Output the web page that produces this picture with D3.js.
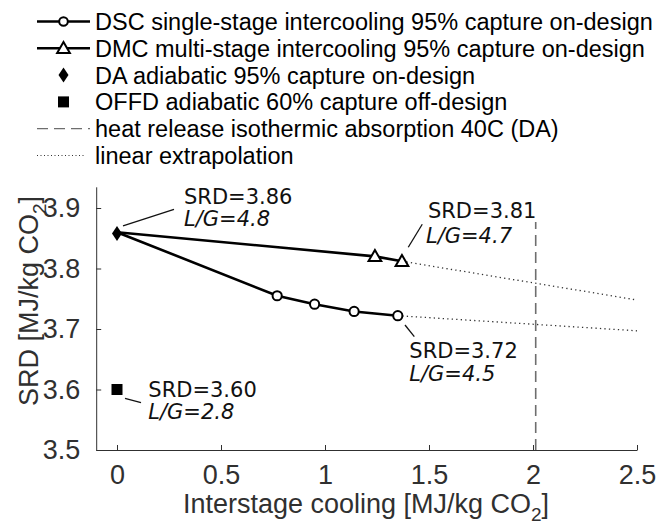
<!DOCTYPE html>
<html><head><meta charset="utf-8">
<script src="https://cdn.jsdelivr.net/npm/d3@7"></script>
<style>body{margin:0;background:#fff}svg{display:block}</style>
</head><body><svg id="c" width="656" height="527"></svg>
<script>
// ---- data ----
const dscX = [0, 0.77, 0.95, 1.14, 1.35];
const dscY = [3.86, 3.755, 3.741, 3.729, 3.722];
const dmcX = [0, 1.24, 1.37];
const dmcY = [3.86, 3.82, 3.812];
const daX = [0];
const daY = [3.858];
const offdX = [0];
const offdY = [3.60];
const isoX = [2.013, 2.013];
const isoY = [3.5, 3.877];
const extDscX = [1.35, 2.5];
const extDscY = [3.722, 3.697];
const extDmcX = [1.37, 2.5];
const extDmcY = [3.812, 3.748];
const xTicks = [0, 0.5, 1, 1.5, 2, 2.5];
const yTicks = [3.5, 3.6, 3.7, 3.8, 3.9];
const legendLabels = [
  "DSC single-stage intercooling 95% capture on-design",
  "DMC multi-stage intercooling 95% capture on-design",
  "DA adiabatic 95% capture on-design",
  "OFFD adiabatic 60% capture off-design",
  "heat release isothermic absorption 40C (DA)",
  "linear extrapolation"
];
const annoSRD = ["SRD=3.86", "SRD=3.81", "SRD=3.72", "SRD=3.60"];
const annoLG = ["L/G=4.8", "L/G=4.7", "L/G=4.5", "L/G=2.8"];
const annoX = [0, 1.37, 1.35, 0];
const annoY = [3.858, 3.812, 3.722, 3.60];

// ---- layout ----
const svg = d3.select("#c");
const x = d3.scaleLinear().domain([-0.1, 2.5]).range([96.2, 637]);
const y = d3.scaleLinear().domain([3.5, 3.935]).range([450, 450 - 0.435 * 605]);
const axisCol = "#303030";
const sansA = "'Liberation Sans', Arial, sans-serif";
const sansD = "'DejaVu Sans', sans-serif";

// axes
const gx = svg.append("g").attr("transform", `translate(0,${y(3.5)})`)
  .call(d3.axisBottom(x).tickValues(xTicks).tickFormat(d3.format("~g"))
    .tickSizeInner(-5).tickSizeOuter(0).tickPadding(15));
const gy = svg.append("g").attr("transform", `translate(${x(-0.1)},0)`)
  .call(d3.axisLeft(y).tickValues(yTicks).tickFormat(d3.format(".1f"))
    .tickSizeInner(-5).tickSizeOuter(0).tickPadding(16));
[gx, gy].forEach(g => {
  g.select(".domain").attr("stroke", axisCol).attr("stroke-width", 1);
  g.selectAll(".tick line").attr("stroke", axisCol);
  g.selectAll(".tick text").attr("fill", axisCol).style("font-family", sansA).style("font-size", "27px");
});

// axis labels
const xl = svg.append("text").attr("x", 366).attr("y", 513).attr("text-anchor", "middle")
  .style("font-family", sansA).style("font-size", "27px").attr("fill", axisCol);
xl.append("tspan").text("Interstage cooling [MJ/kg CO");
xl.append("tspan").attr("dy", 8).style("font-size", "19px").text("2");
xl.append("tspan").attr("dy", -8).text("]");
const yl = svg.append("text").attr("transform", "translate(38,301) rotate(-90)").attr("text-anchor", "middle")
  .style("font-family", sansA).style("font-size", "27px").attr("fill", axisCol);
yl.append("tspan").text("SRD [MJ/kg CO");
yl.append("tspan").attr("dy", 8).style("font-size", "19px").text("2");
yl.append("tspan").attr("dy", -8).text("]");

const line = d3.line().x(d => x(d[0])).y(d => y(d[1]));
const zip = (a, b) => a.map((v, i) => [v, b[i]]);

// vertical isothermic line
svg.append("path").attr("d", line(zip(isoX, isoY))).attr("fill", "none")
  .attr("stroke", "#6e6e6e").attr("stroke-width", 1.6).attr("stroke-dasharray", "11,6");
// extrapolation
[zip(extDscX, extDscY), zip(extDmcX, extDmcY)].forEach(p =>
  svg.append("path").attr("d", line(p)).attr("fill", "none").attr("stroke", "#333")
    .attr("stroke-width", 1.3).attr("stroke-dasharray", "1.3,3.2"));

// series lines
[zip(dscX, dscY), zip(dmcX, dmcY)].forEach(p =>
  svg.append("path").attr("d", line(p)).attr("fill", "none").attr("stroke", "#000").attr("stroke-width", 2.6));

const triPath = d3.symbol().type(d3.symbolTriangle).size(70)();
const diaPath = "M0,-7.5L5,0L0,7.5L-5,0Z";
// circles
svg.selectAll(".dsc").data(zip(dscX, dscY).slice(1)).join("circle")
  .attr("cx", d => x(d[0])).attr("cy", d => y(d[1])).attr("r", 4.6)
  .attr("fill", "#fff").attr("stroke", "#000").attr("stroke-width", 2);
// triangles
svg.selectAll(".dmc").data(zip(dmcX, dmcY).slice(1)).join("path")
  .attr("d", triPath).attr("transform", d => `translate(${x(d[0])},${y(d[1]) + 1})`)
  .attr("fill", "#fff").attr("stroke", "#000").attr("stroke-width", 2);
// diamond
svg.selectAll(".da").data(zip(daX, daY)).join("path")
  .attr("d", diaPath).attr("transform", d => `translate(${x(d[0])},${y(d[1])})`).attr("fill", "#000");
// square
svg.selectAll(".offd").data(zip(offdX, offdY)).join("rect")
  .attr("x", d => x(d[0]) - 5.5).attr("y", d => y(d[1]) - 5.5).attr("width", 11).attr("height", 11).attr("fill", "#000");

// annotations (offsets in px relative to the annotated point)
const annoLayout = [
  {tx: 67, ty1: -29, tx2: 67, ty2: -7, l: [6, -7.5, 57, -24]},
  {tx: 26, ty1: -43, tx2: 24, ty2: -18.5, l: [6.3, -14, 20.3, -37]},
  {tx: 11.5, ty1: 42.5, tx2: 11.5, ty2: 65, l: [7.2, 9.3, 16.5, 21]},
  {tx: 31.3, ty1: 7, tx2: 31.3, ty2: 29.5, l: [8, 8.8, 24, 13.2]}
];
annoSRD.forEach((s, i) => {
  const px = x(annoX[i]), py = y(annoY[i]), L = annoLayout[i];
  svg.append("line").attr("x1", px + L.l[0]).attr("y1", py + L.l[1]).attr("x2", px + L.l[2]).attr("y2", py + L.l[3])
    .attr("stroke", "#111").attr("stroke-width", 1.3);
  svg.append("text").attr("x", px + L.tx).attr("y", py + L.ty1).text(s)
    .style("font-family", sansD).style("font-size", "21px").attr("fill", "#111");
  svg.append("text").attr("x", px + L.tx2).attr("y", py + L.ty2).text(annoLG[i])
    .style("font-family", sansD).style("font-size", "21px").style("font-style", "italic").attr("fill", "#111");
});

// legend
const lg = svg.append("g");
legendLabels.forEach((t, i) => {
  const cy = 21.5 + 26.8 * i;
  const g = lg.append("g").attr("transform", `translate(0,${cy})`);
  if (i < 2) {
    g.append("line").attr("x1", 37).attr("x2", 90).attr("stroke", "#000").attr("stroke-width", 2.6);
    if (i === 0) g.append("circle").attr("cx", 63.5).attr("r", 4.3).attr("fill", "#fff").attr("stroke", "#000").attr("stroke-width", 2);
    else g.append("path").attr("d", triPath).attr("transform", "translate(63.5,1)").attr("fill", "#fff").attr("stroke", "#000").attr("stroke-width", 2);
  } else if (i === 2) {
    g.append("path").attr("d", diaPath).attr("transform", "translate(63.5,0)").attr("fill", "#000");
  } else if (i === 3) {
    g.append("rect").attr("x", 58).attr("y", -5.5).attr("width", 11).attr("height", 11).attr("fill", "#000");
  } else if (i === 4) {
    g.append("line").attr("x1", 37).attr("x2", 90).attr("stroke", "#6e6e6e").attr("stroke-width", 1.3).attr("stroke-dasharray", "11,6");
  } else {
    g.append("line").attr("x1", 37).attr("x2", 86).attr("stroke", "#333").attr("stroke-width", 1).attr("stroke-dasharray", "1,2.5");
  }
  g.append("text").attr("x", 95).attr("y", 8.4).text(t)
    .style("font-family", sansA).style("font-size", "23.5px").attr("fill", "#000");
});
</script></body></html>
